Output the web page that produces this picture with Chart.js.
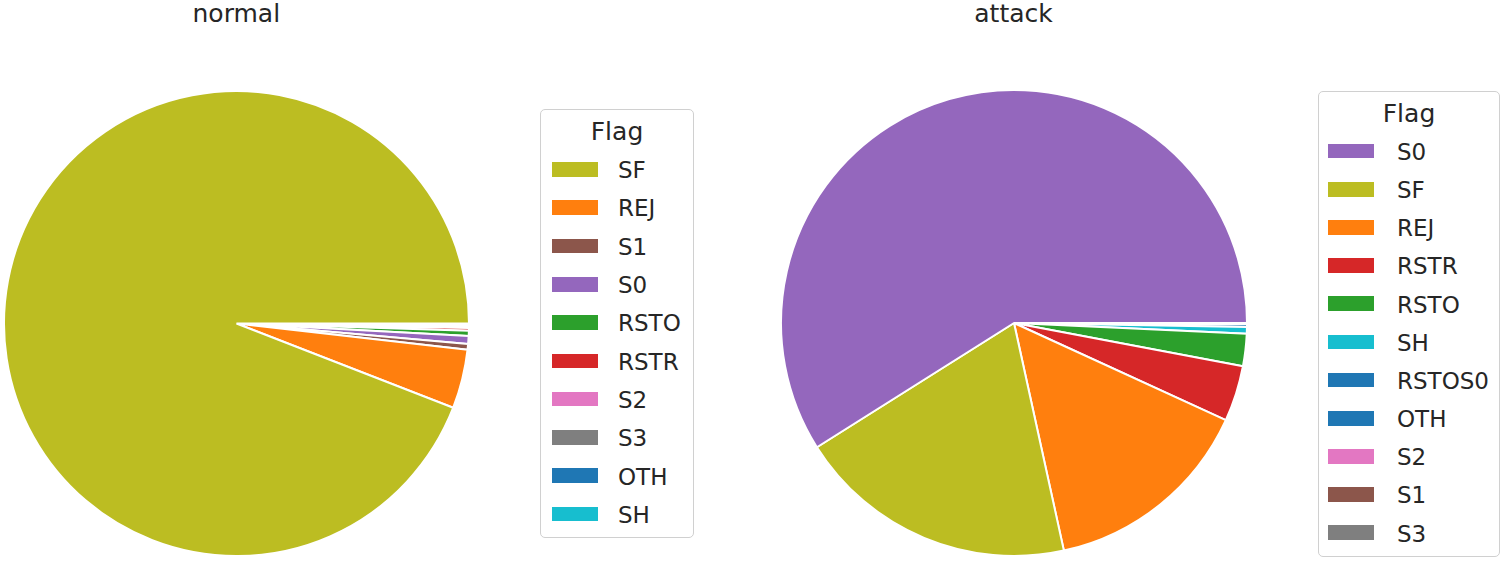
<!DOCTYPE html>
<html><head><meta charset="utf-8">
<script src="https://cdn.jsdelivr.net/npm/chart.js@4"></script>
<style>
html,body{margin:0;padding:0;background:#fff}
body{width:1505px;height:562px;position:relative;overflow:hidden;font-family:"DejaVu Sans",sans-serif;color:#262626}
.abs{position:absolute;white-space:nowrap}
canvas{position:absolute}
.box{position:absolute;border:1px solid #d0d0d0;border-radius:5px;box-sizing:border-box;background:rgba(255,255,255,0.8)}
</style></head><body>
<script>
// ---- data ----
const normalLabels = ['SF','REJ','S1','S0','RSTO','RSTR','S2','S3','OTH','SH'];
const normalValues = [94.1, 4.1, 0.4, 0.55, 0.35, 0.2, 0.12, 0.08, 0.05, 0.05];
const attackLabels = ['S0','SF','REJ','RSTR','RSTO','SH','RSTOS0','OTH','S2','S1','S3'];
const attackValues = [58.85, 19.45, 14.7, 3.86, 2.24, 0.46, 0.18, 0.06, 0.014, 0.007, 0.007];
const flagColors = {SF:'#bcbd22',REJ:'#ff7f0e',S1:'#8c564b',S0:'#9467bd',RSTO:'#2ca02c',RSTR:'#d62728',S2:'#e377c2',S3:'#7f7f7f',OTH:'#1f77b4',SH:'#17becf',RSTOS0:'#1f77b4'};
const panelTitles = ['normal','attack'];
const legendTitle = 'Flag';

// ---- layout ----
const panels = [
  {title:panelTitles[0], labels:normalLabels, values:normalValues, cx:236.5, cy:323, r:232.5, titleX:236.3,
   legend:{left:540, top:109, width:154, height:429, titleBase:140, firstRow:169.3, step:38.3, patchX:552, textX:618}},
  {title:panelTitles[1], labels:attackLabels, values:attackValues, cx:1014, cy:323, r:233, titleX:1013.5,
   legend:{left:1318, top:91, width:182, height:466, titleBase:121.7, firstRow:151, step:38.17, patchX:1328, textX:1397}}
];
const TITLE_FS = 25, ENTRY_FS = 23;

function addText(txt, x, baseline, fs, align){
  const d = document.createElement('div');
  d.className = 'abs';
  d.textContent = txt;
  d.style.fontSize = fs + 'px';
  d.style.lineHeight = fs + 'px';
  d.style.top = (baseline - 0.846*fs) + 'px';
  if (align === 'center') { d.style.left = x + 'px'; d.style.transform = 'translateX(-50%)'; }
  else d.style.left = x + 'px';
  document.body.appendChild(d);
  return d;
}

panels.forEach(p => {
  // title
  addText(p.title, p.titleX, 22.5, TITLE_FS, 'center');
  // pie (matplotlib draws counter-clockwise from 3 o'clock; reverse data and draw clockwise from 3 o'clock)
  const pad = 4;
  const size = Math.round(2*p.r + 2*pad);
  const c = document.createElement('canvas');
  c.width = size; c.height = size;
  c.style.width = size + 'px'; c.style.height = size + 'px';
  c.style.left = (p.cx - size/2) + 'px';
  c.style.top = (p.cy - size/2) + 'px';
  document.body.appendChild(c);
  const labs = p.labels.slice().reverse();
  const vals = p.values.slice().reverse();
  new Chart(c, {
    type: 'pie',
    data: { labels: labs, datasets: [{ data: vals, backgroundColor: labs.map(l => flagColors[l]),
      borderColor: '#ffffff', borderWidth: 2, rotation: 90, radius: p.r }] },
    options: { responsive: false, animation: false, radius: p.r, rotation: 90,
      layout: { padding: 0 },
      plugins: { legend: { display: false }, tooltip: { enabled: false }, title: { display: false } } }
  });
  // legend
  const L = p.legend;
  const box = document.createElement('div');
  box.className = 'box';
  box.style.left = L.left + 'px'; box.style.top = L.top + 'px';
  box.style.width = L.width + 'px'; box.style.height = L.height + 'px';
  document.body.appendChild(box);
  addText(legendTitle, L.left + L.width/2, L.titleBase, TITLE_FS, 'center');
  p.labels.forEach((lab, i) => {
    const y = L.firstRow + i*L.step;
    const patch = document.createElement('div');
    patch.className = 'abs';
    patch.style.left = L.patchX + 'px';
    patch.style.top = (y - 7.3) + 'px';
    patch.style.width = '46px'; patch.style.height = '14.7px';
    patch.style.background = flagColors[lab];
    document.body.appendChild(patch);
    addText(lab, L.textX, y + 9.3, ENTRY_FS, 'left');
  });
});
</script>
</body></html>
